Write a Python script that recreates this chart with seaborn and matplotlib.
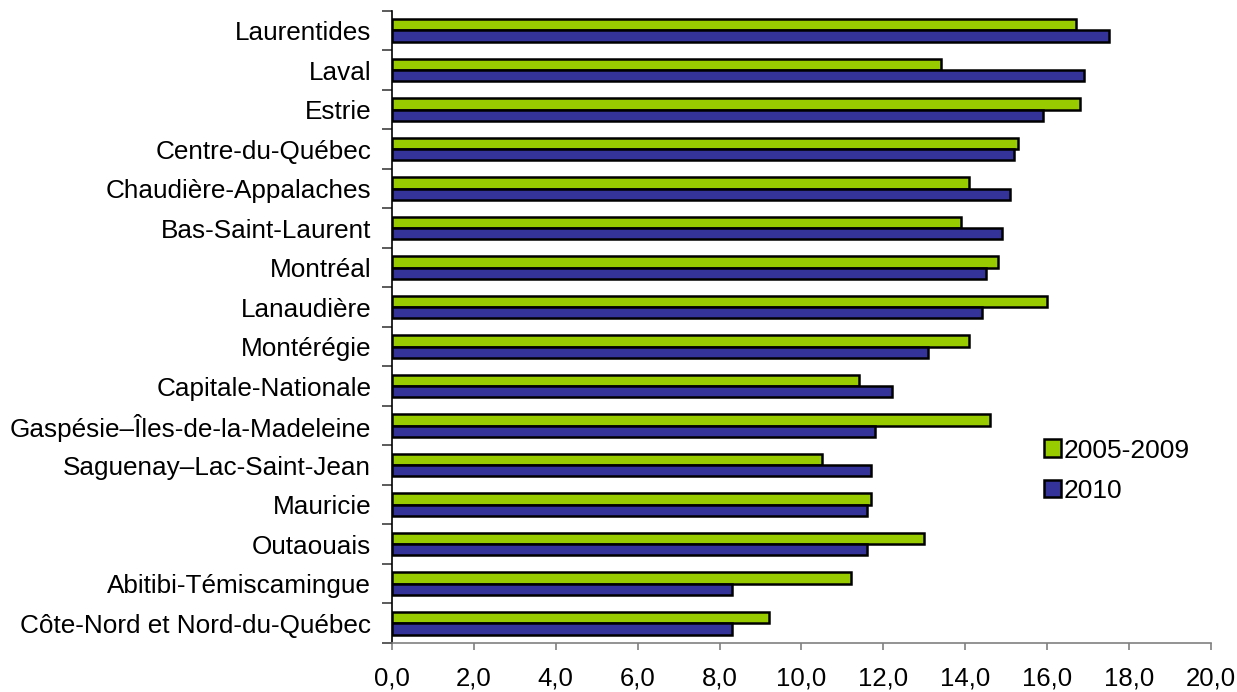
#%% Librerias
import numpy as np
import pandas as pd
import seaborn as sns
import matplotlib
matplotlib.use('Agg')
import matplotlib.pyplot as plt

#%% Datos
regiones = ['Laurentides', 'Laval', 'Estrie', 'Centre-du-Québec',
            'Chaudière-Appalaches', 'Bas-Saint-Laurent', 'Montréal',
            'Lanaudière', 'Montérégie', 'Capitale-Nationale',
            'Gaspésie–Îles-de-la-Madeleine', 'Saguenay–Lac-Saint-Jean',
            'Mauricie', 'Outaouais', 'Abitibi-Témiscamingue',
            'Côte-Nord et Nord-du-Québec']
v_2005_2009 = [16.7, 13.4, 16.8, 15.3, 14.1, 13.9, 14.8, 16.0,
               14.1, 11.4, 14.6, 10.5, 11.7, 13.0, 11.2, 9.2]
v_2010 = [17.5, 16.9, 15.9, 15.2, 15.1, 14.9, 14.5, 14.4,
          13.1, 12.2, 11.8, 11.7, 11.6, 11.6, 8.3, 8.3]
periodos = ['2005-2009', '2010']
colores = ['#99CC00', '#333399']
xticks = np.arange(0, 21, 2)

df = pd.DataFrame({
    'region': regiones * 2,
    'valor': v_2005_2009 + v_2010,
    'periodo': [periodos[0]] * len(regiones) + [periodos[1]] * len(regiones),
})

#%% Grafica
sns.set_style('white')
plt.rcParams['font.family'] = ['Liberation Sans', 'DejaVu Sans']
plt.rcParams['text.color'] = 'black'
plt.rcParams['xtick.color'] = 'black'
plt.rcParams['ytick.color'] = 'black'

fig = plt.figure(figsize=(12.37, 6.92), dpi=100)
ax = fig.add_axes([0.3169, 0.0708, 0.6620, 0.9137])

sns.barplot(data=df, x='valor', y='region', hue='periodo', orient='h',
            order=regiones, hue_order=periodos, palette=colores,
            saturation=1, width=0.57, edgecolor='black', linewidth=1.8,
            ax=ax)

ax.set_xlim(0, 20)
ax.set_ylim(len(regiones) - 0.5, -0.5)
ax.set_xticks(xticks)
ax.set_xticklabels([f'{t:.1f}'.replace('.', ',') for t in xticks], fontsize=18.5)
ax.set_yticks(range(len(regiones)))
ax.set_yticklabels(regiones, fontsize=18.8)
ax.set_yticks(np.arange(-0.5, len(regiones)), minor=True)
ax.tick_params(axis='y', which='major', length=0, pad=15, labelcolor='black')
ax.tick_params(axis='y', which='minor', length=7, width=1.2, color='#404040', direction='out', left=True)
ax.tick_params(axis='x', length=5, width=1.2, color='#808080', direction='out', bottom=True, pad=12,
               labelcolor='black')
ax.set_xlabel('')
ax.set_ylabel('')

for s in ['top', 'right']:
    ax.spines[s].set_visible(False)
ax.spines['left'].set_color('black')
ax.spines['left'].set_linewidth(1.2)
ax.spines['bottom'].set_color('#808080')
ax.spines['bottom'].set_linewidth(1.2)

leg = ax.legend(loc='upper left', bbox_to_anchor=(1033 / 1237, 1 - 428 / 692),
                bbox_transform=fig.transFigure, frameon=False, fontsize=19,
                handlelength=0.65, handleheight=0.65, handletextpad=0.12,
                labelspacing=0.62, borderaxespad=0)
for h in leg.legend_handles:
    h.set_edgecolor('black')
    h.set_linewidth(1.8)
for t in leg.get_texts():
    t.set_color('black')

fig.savefig('out.png', dpi=100)
